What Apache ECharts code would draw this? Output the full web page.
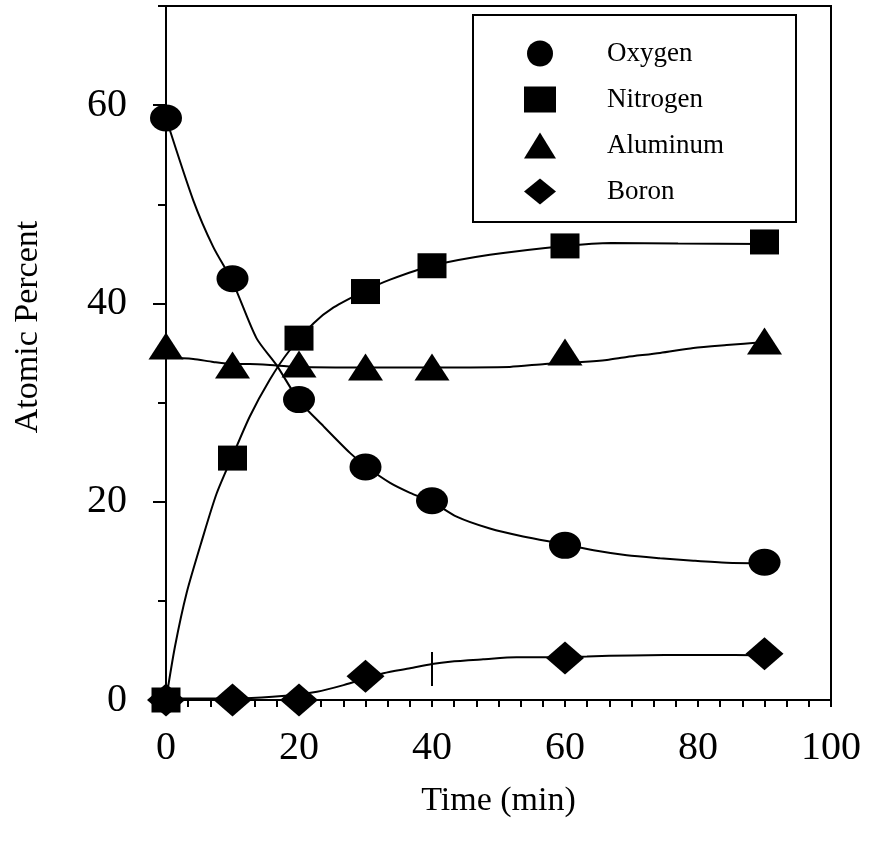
<!DOCTYPE html>
<html>
<head>
<meta charset="utf-8">
<title>Atomic Percent vs Time</title>
<script src="https://cdn.jsdelivr.net/npm/echarts@6.0.0/dist/echarts.min.js"></script>
<style>
    html, body { margin: 0; padding: 0; background: #fff; }
    #chart { width: 870px; height: 844px; }
</style>
</head>
<body>
<div id="chart"></div>
<script>
// measured points (markers)
const timeMin = [0, 10, 20, 30, 40, 60, 90];
const oxygen = [58.7, 42.5, 30.3, 23.5, 20.1, 15.6, 13.9];
const nitrogen = [0, 24.4, 36.5, 41.2, 43.8, 45.8, 46.2];
const aluminum = [35.7, 33.8, 33.9, 33.6, 33.6, 35.1, 36.2];
const boron = [0, 0, 0, 2.4, '-', 4.24, 4.67];

// fitted curves
const oxygenFitX = [0, 4.1, 7.1, 10, 13.6, 16.6, 20, 23.7, 27.7, 30, 33.7, 36.7, 40, 43.7, 48.7, 53.7, 60, 64.3, 69.3, 74.3, 79.3, 84.3, 90];
const oxygenFitY = [58.7, 50.4, 45.7, 42.2, 36.5, 33.8, 30.2, 27.6, 24.9, 23.6, 21.9, 20.9, 20.0, 18.5, 17.3, 16.5, 15.7, 15.1, 14.6, 14.3, 14.05, 13.85, 13.8];
const nitrogenFitX = [0, 1.35, 3.1, 5.4, 7.6, 10, 12.6, 15.6, 18.4, 22.2, 25.2, 30, 33.7, 40, 48.7, 60, 67, 77, 90];
const nitrogenFitY = [0, 5.4, 10.8, 16.1, 20.8, 24.6, 28.6, 32.3, 35.1, 38.0, 39.6, 41.3, 42.4, 43.8, 44.9, 45.8, 46.1, 46.05, 46.0];
const aluminumFitX = [0, 4.1, 7.1, 10, 12.6, 16.6, 20, 30, 40, 51.7, 57, 62.5, 66.3, 69.3, 74.3, 79.3, 84.3, 90];
const aluminumFitY = [34.6, 34.4, 34.1, 33.9, 33.9, 33.75, 33.6, 33.55, 33.55, 33.6, 33.9, 34.1, 34.3, 34.6, 35.0, 35.5, 35.8, 36.1];
const boronFitX = [0, 10, 16, 22.7, 26.7, 32.7, 36.7, 40, 42.7, 47.7, 52.7, 56.7, 63.3, 70, 80, 85.5, 90];
const boronFitY = [0.15, 0.15, 0.33, 0.84, 1.5, 2.7, 3.2, 3.63, 3.87, 4.1, 4.3, 4.3, 4.4, 4.5, 4.55, 4.55, 4.5];
// short vertical mark at t = 40
const markX = [40, 40];
const markY = [1.4, 4.85];

const font = 'Liberation Serif, Times New Roman, serif';
const black = '#000';

const pairs = (xs, ys) => xs.map((x, i) => [x, ys[i]]);

function markerSeries(name, symbol, size, values) {
    return {
        name: name,
        type: 'scatter',
        symbol: symbol,
        symbolSize: size,
        itemStyle: { color: black, opacity: 1 },
        clip: false,
        z: 4,
        data: pairs(timeMin, values)
    };
}

function fitSeries(name, xs, ys) {
    return {
        name: name,
        type: 'line',
        symbol: 'none',
        smooth: 0.25,
        silent: true,
        lineStyle: { color: black, width: 2 },
        z: 3,
        data: pairs(xs, ys)
    };
}

const chart = echarts.init(document.getElementById('chart'));
chart.setOption({
    backgroundColor: '#fff',
    animation: false,
    grid: {
        left: 166,
        right: 39,
        top: 6,
        bottom: 144,
        show: true,
        borderColor: black,
        borderWidth: 2
    },
    legend: {
        orient: 'vertical',
        left: 524,
        top: 40,
        padding: 0,
        itemWidth: 32,
        itemHeight: 26,
        itemGap: 19,
        symbolKeepAspect: false,
        selectedMode: false,
        itemStyle: { opacity: 1 },
        textStyle: {
            fontFamily: font,
            fontSize: 27,
            color: black,
            lineHeight: 26,
            padding: [0, 0, 0, 46]
        },
        data: [
            { name: 'Oxygen', icon: 'circle' },
            { name: 'Nitrogen', icon: 'rect' },
            { name: 'Aluminum', icon: 'triangle' },
            { name: 'Boron', icon: 'diamond' }
        ]
    },
    graphic: [{
        type: 'rect',
        x: 473,
        y: 15,
        shape: { width: 323, height: 207 },
        style: { fill: null, stroke: black, lineWidth: 2 },
        z: 10
    }],
    xAxis: {
        type: 'value',
        min: 0,
        max: 100,
        interval: 20,
        name: 'Time (min)',
        nameLocation: 'middle',
        nameGap: 84,
        nameTextStyle: { fontFamily: font, fontSize: 34, color: black },
        axisLine: { show: true, lineStyle: { color: black, width: 2 } },
        axisTick: { show: true, length: 7, lineStyle: { color: black, width: 2 } },
        minorTick: { show: true, splitNumber: 6, length: 7, lineStyle: { color: black, width: 2 } },
        axisLabel: { margin: 28, fontFamily: font, fontSize: 40, color: black },
        splitLine: { show: false }
    },
    yAxis: [
        {
            type: 'value',
            min: 0,
            max: 70,
            position: 'left',
            name: 'Atomic Percent',
            nameLocation: 'middle',
            nameGap: 121,
            nameTextStyle: { fontFamily: font, fontSize: 34, color: black, padding: [0, 0, 0, 52] },
            axisLine: { show: true, lineStyle: { color: black, width: 2 } },
            axisTick: { show: true, length: 13, customValues: [0, 20, 40, 60], lineStyle: { color: black, width: 2 } },
            axisLabel: { margin: 39, customValues: [0, 20, 40, 60], fontFamily: font, fontSize: 40, color: black },
            splitLine: { show: false }
        },
        {
            // short ticks at the odd tens, placed on the left edge
            type: 'value',
            min: 0,
            max: 70,
            position: 'right',
            offset: -665,
            axisLine: { show: false },
            axisTick: { show: true, inside: true, length: 8, customValues: [10, 30, 50, 70], lineStyle: { color: black, width: 2 } },
            axisLabel: { show: false },
            splitLine: { show: false }
        }
    ],
    series: [
        fitSeries('Oxygen fit', oxygenFitX, oxygenFitY),
        fitSeries('Nitrogen fit', nitrogenFitX, nitrogenFitY),
        fitSeries('Aluminum fit', aluminumFitX, aluminumFitY),
        fitSeries('Boron fit', boronFitX, boronFitY),
        fitSeries('Boron mark', markX, markY),
        markerSeries('Oxygen', 'circle', [32, 27], oxygen),
        markerSeries('Nitrogen', 'rect', [29, 25], nitrogen),
        markerSeries('Aluminum', 'triangle', [35, 27], aluminum),
        markerSeries('Boron', 'diamond', [38, 33], boron)
    ]
});
</script>
</body>
</html>
